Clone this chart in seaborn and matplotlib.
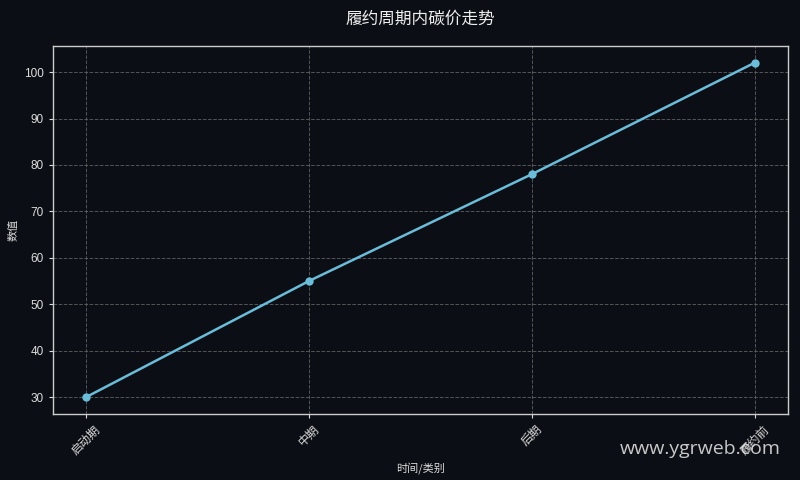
import matplotlib
matplotlib.use("Agg")
import matplotlib.pyplot as plt
import seaborn as sns
import pandas as pd

# Data
categories = ["启动期", "中期", "后期", "履约前"]
values = [30, 55, 78, 102]

bg = "#0b0e14"
line_color = "#6bbcd9"

sns.set_style("dark")
plt.rcParams['font.family'] = ['Liberation Sans', 'Noto Sans CJK SC', 'DejaVu Sans']
plt.rcParams['axes.unicode_minus'] = False

df = pd.DataFrame({"category": categories, "value": values})

fig, ax = plt.subplots(figsize=(8, 4.8), dpi=100)
fig.patch.set_facecolor(bg)
ax.set_facecolor(bg)

sns.lineplot(data=df, x="category", y="value", ax=ax, color=line_color,
             linewidth=1.8, marker="o", markersize=6, markeredgewidth=0,
             sort=False)

ax.grid(True, color="#666666", linestyle="--", linewidth=0.7, alpha=0.8)
for s in ax.spines.values():
    s.set_visible(True)
    s.set_color("#cccccc")
    s.set_linewidth(1)

ax.tick_params(colors="#dddddd", labelsize=8.5, length=3, left=True, bottom=True)
plt.setp(ax.get_xticklabels(), rotation=45, family=['Noto Sans CJK SC', 'DejaVu Sans'])

ax.set_title("履约周期内碳价走势", color="#eeeeee", fontsize=12,
             family=['Noto Sans CJK SC', 'DejaVu Sans'], pad=16)
ax.set_xlabel("时间/类别", color="#dddddd", fontsize=8,
              family=['Noto Sans CJK SC', 'DejaVu Sans'])
ax.set_ylabel("数值", color="#dddddd", fontsize=8,
              family=['Noto Sans CJK SC', 'DejaVu Sans'])

fig.subplots_adjust(left=0.066, right=0.985, top=0.904, bottom=0.138)

fig.text(0.976, 0.045, "www.ygrweb.com", color="#dddddd", fontsize=14,
         ha="right", va="bottom", family=['Open Sans', 'DejaVu Sans'], alpha=0.9)

fig.savefig("out.png", facecolor=bg)
